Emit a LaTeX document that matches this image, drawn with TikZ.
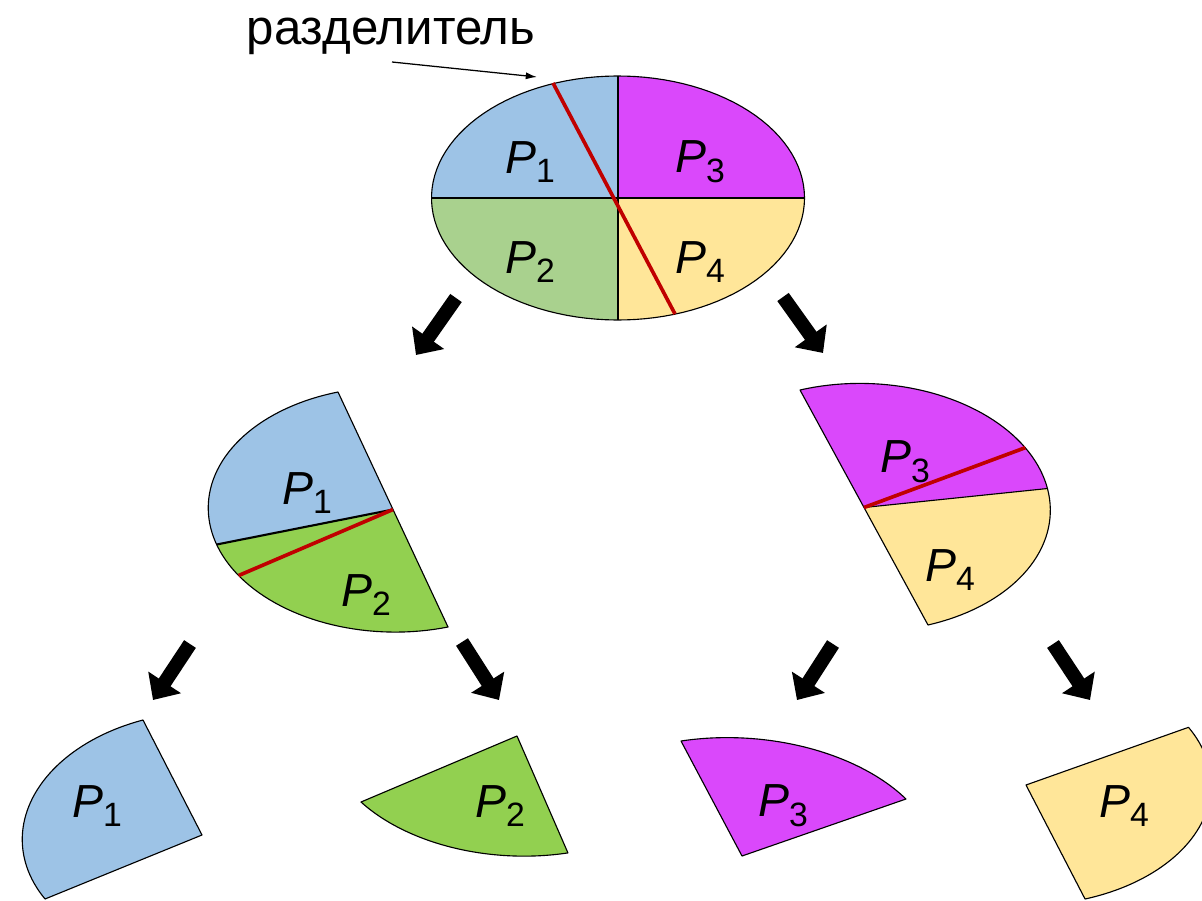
\documentclass[tikz,border=0pt]{standalone}
\usepackage{fontspec}
\setmainfont{Liberation Sans}
\usetikzlibrary{arrows.meta}
\definecolor{cblue}{HTML}{9DC3E6}
\definecolor{cgreen}{HTML}{A9D18E}
\definecolor{cgreenb}{HTML}{92D050}
\definecolor{cmag}{HTML}{DA48FB}
\definecolor{cyel}{HTML}{FFE699}
\definecolor{cred}{HTML}{C00000}
\newcommand{\plab}[1]{{\fontsize{33}{33}\selectfont\itshape P\raisebox{-7pt}{\fontsize{24}{24}\selectfont\upshape #1}}}
\begin{document}
\begin{tikzpicture}[x=0.025cm,y=-0.025cm,line join=round,
  outl/.style={draw=black,line width=0.8pt},
  redcut/.style={draw=cred,line width=2.6pt},
  blockarrow/.style={line width=10pt,-{Triangle[length=15pt,width=27pt]}},
  plabel/.style={inner sep=0pt}]
\useasboundingbox (0,0) rectangle (1202,900);
\clip (0,0) rectangle (1202,900);

% ---------- top ellipse ----------
\fill[cblue] (618,198) -- plot[domain=180:270,samples=40] ({618+186.5*cos(\x)},{198+122*sin(\x)}) -- cycle;
\fill[cmag]  (618,198) -- plot[domain=270:360,samples=40] ({618+186.5*cos(\x)},{198+122*sin(\x)}) -- cycle;
\fill[cyel]  (618,198) -- plot[domain=0:90,samples=40] ({618+186.5*cos(\x)},{198+122*sin(\x)}) -- cycle;
\fill[cgreen] (618,198) -- plot[domain=90:180,samples=40] ({618+186.5*cos(\x)},{198+122*sin(\x)}) -- cycle;
\draw[outl] plot[domain=0:360,samples=120] ({618+186.5*cos(\x)},{198+122*sin(\x)}) -- cycle;
\draw[outl] (431.5,198) -- (804.5,198);
\draw[outl] (618,76) -- (618,320);
\draw[redcut] (553,83) -- (675,314);
\node[plabel] (t1) at (530,162) {\plab{1}};
\node[plabel] (t3) at (700,162) {\plab{3}};
\node[plabel] (t2) at (530,262) {\plab{2}};
\node[plabel] (t4) at (700,262) {\plab{4}};

% separator label
\node[inner sep=0pt,font=\fontsize{35}{35}\selectfont] (sep) at (391,36) {разделитель};
\coordinate (septail) at (392,62);
\coordinate (septip) at (537,77);
\draw[line width=0.9pt,-{Latex[length=8pt,width=5pt]}] (septail) -- (septip);

% ---------- middle left ----------
\fill[cblue] (393,509.5) -- plot[domain=0:90,samples=40] ({393-55*cos(\x)-176.4*sin(\x)},{509.5-117.5*cos(\x)+35*sin(\x)}) -- cycle;
\fill[cgreenb] (393,509.5) -- plot[domain=90:180,samples=40] ({393-55*cos(\x)-176.4*sin(\x)},{509.5-117.5*cos(\x)+35*sin(\x)}) -- cycle;
\draw[outl] plot[domain=0:180,samples=80] ({393-55*cos(\x)-176.4*sin(\x)},{509.5-117.5*cos(\x)+35*sin(\x)}) -- cycle;
\draw[draw=black,line width=1.5pt] (393,509.5) -- ({393-176.4},{509.5+35});
\draw[redcut] (393,509.5) -- ({393-55*cos(106)-176.4*sin(106)},{509.5-117.5*cos(106)+35*sin(106)});
\node[plabel] (m1) at (307,493) {\plab{1}};
\node[plabel] (m2) at (366,595) {\plab{2}};

% ---------- middle right ----------
\fill[cmag] (864,507.5) -- plot[domain=0:100,samples=40] ({864-64*cos(\x)+175*sin(\x)},{507.5-117.5*cos(\x)-40*sin(\x)}) -- cycle;
\fill[cyel] (864,507.5) -- plot[domain=100:180,samples=40] ({864-64*cos(\x)+175*sin(\x)},{507.5-117.5*cos(\x)-40*sin(\x)}) -- cycle;
\draw[outl] plot[domain=0:180,samples=80] ({864-64*cos(\x)+175*sin(\x)},{507.5-117.5*cos(\x)-40*sin(\x)}) -- cycle;
\draw[outl] (864,507.5) -- ({864-64*cos(100)+175*sin(100)},{507.5-117.5*cos(100)-40*sin(100)});
\draw[redcut] (864,507.5) -- ({864-64*cos(80)+175*sin(80)},{507.5-117.5*cos(80)-40*sin(80)});
\node[plabel] (n3) at (905,462) {\plab{3}};
\node[plabel] (n4) at (950,570) {\plab{4}};

% ---------- bottom pieces ----------
\filldraw[fill=cblue,outl] (202,835) -- plot[domain=0:100,samples=50] ({202-59*cos(\x)-169.8*sin(\x)},{835-115*cos(\x)+44.7*sin(\x)}) -- cycle;
\filldraw[fill=cgreenb,outl] (517,736) -- plot[domain=0:70,samples=50] ({517-156*cos(\x)+111*sin(\x)},{736+66*cos(\x)+100.4*sin(\x)}) -- cycle;
\filldraw[fill=cmag,outl] (742,856) -- plot[domain=0:75,samples=50] ({742-61*cos(\x)+186.1*sin(\x)},{856-115*cos(\x)-28.2*sin(\x)}) -- cycle;
\filldraw[fill=cyel,outl] (1026,785) -- plot[domain=0:100,samples=50] ({1026+162.5*cos(\x)+88.6*sin(\x)},{785-57.7*cos(\x)+105.6*sin(\x)}) -- cycle;
\node[plabel] (b1) at (97,806) {\plab{1}};
\node[plabel] (b2) at (500,806) {\plab{2}};
\node[plabel] (b3) at (783,806) {\plab{3}};
\node[plabel] (b4) at (1124,806) {\plab{4}};

% ---------- block arrows ----------
\coordinate (a1s) at (456,298); \coordinate (a1e) at (416,355);
\coordinate (a2s) at (783,297); \coordinate (a2e) at (823,353);
\coordinate (a3s) at (190,644); \coordinate (a3e) at (153,700);
\coordinate (a4s) at (462,642); \coordinate (a4e) at (499,700);
\coordinate (a5s) at (833,644); \coordinate (a5e) at (797,700);
\coordinate (a6s) at (1053,644); \coordinate (a6e) at (1090,700);
\draw[blockarrow] (a1s) -- (a1e);
\draw[blockarrow] (a2s) -- (a2e);
\draw[blockarrow] (a3s) -- (a3e);
\draw[blockarrow] (a4s) -- (a4e);
\draw[blockarrow] (a5s) -- (a5e);
\draw[blockarrow] (a6s) -- (a6e);
\end{tikzpicture}
\end{document}
